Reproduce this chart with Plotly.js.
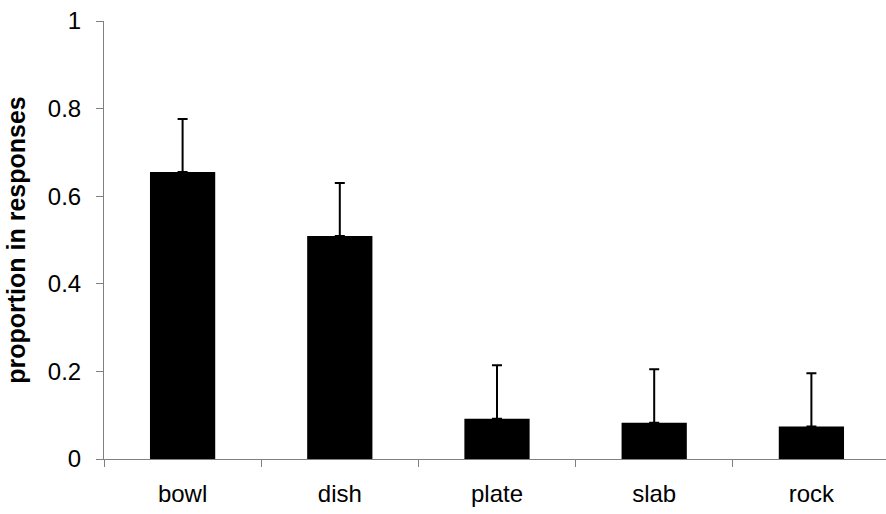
<!DOCTYPE html>
<html>
<head>
<meta charset="utf-8">
<script src="https://cdn.plot.ly/plotly-3.0.1.min.js"></script>
<style>html,body{margin:0;padding:0;overflow:hidden;background:#fff;}</style>
</head>
<body>
<div id="chart" style="width:890px;height:514px;"></div>
<script>
const categories = ["bowl", "dish", "plate", "slab", "rock"];
const proportions = [0.655, 0.509, 0.092, 0.083, 0.074];
const errorsUp = [0.121, 0.121, 0.122, 0.122, 0.122];
const yTickValues = [0, 0.2, 0.4, 0.6, 0.8, 1];
const yTickLabels = ["0", "0.2", "0.4", "0.6", "0.8", "1"];

const trace = {
  type: "bar",
  x: categories,
  y: proportions,
  marker: {color: "#000000", line: {width: 0}},
  error_y: {type: "data", array: errorsUp, symmetric: false, arrayminus: [0,0,0,0,0],
            color: "#000000", thickness: 2, width: 5},
  hoverinfo: "none"
};

const layout = {
  width: 890, height: 514,
  margin: {l: 104, r: 0, t: 21, b: 55},
  paper_bgcolor: "#ffffff", plot_bgcolor: "#ffffff",
  font: {family: "Liberation Sans, Arial, sans-serif", size: 24, color: "#000000"},
  bargap: 0.585,
  showlegend: false,
  xaxis: {
    type: "category",
    showline: true, linecolor: "#808080", linewidth: 1,
    ticks: "outside", tickson: "boundaries", ticklen: 7, tickcolor: "#808080", tickwidth: 1,
    showgrid: false, zeroline: false,
    tickfont: {size: 24},
    ticklabelstandoff: 13
  },
  yaxis: {
    range: [0, 1],
    tickvals: yTickValues, ticktext: yTickLabels,
    showline: true, linecolor: "#808080", linewidth: 1,
    ticks: "outside", ticklen: 7, tickcolor: "#808080", tickwidth: 1,
    showgrid: false, zeroline: false,
    tickfont: {size: 24},
    ticklabelstandoff: 10,
    title: {text: "<b>proportion in responses</b>", font: {size: 25}, standoff: 15}
  }
};

Plotly.newPlot("chart", [trace], layout, {staticPlot: true, displayModeBar: false});
</script>
</body>
</html>
